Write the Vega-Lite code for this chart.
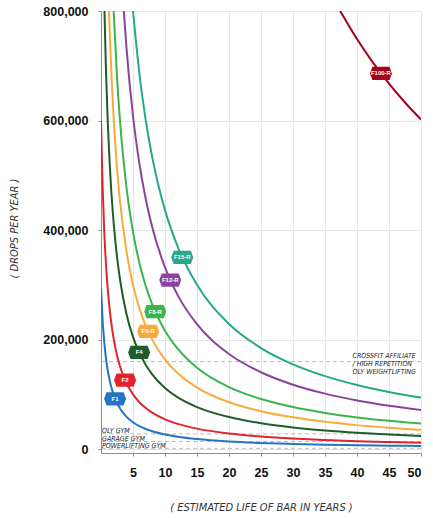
{
  "$schema": "https://vega.github.io/schema/vega-lite/v6.json",
  "width": 320,
  "height": 442,
  "autosize": {"type": "none"},
  "padding": {"left": 101, "top": 11, "right": 12, "bottom": 65},
  "config": {
    "view": {"stroke": null},
    "axis": {
      "gridColor": "#e6e6e6",
      "domainColor": "#8c8c8c",
      "tickColor": "#8c8c8c",
      "tickSize": 3,
      "labelFont": "Liberation Sans",
      "labelFontWeight": "bold",
      "labelFontSize": 12.5,
      "labelColor": "#111111",
      "labelPadding": 10,
      "labelOverlap": false,
      "titleFont": "'Liberation Sans Narrow', 'DejaVu Sans Condensed', 'Roboto', sans-serif",
      "titleFontStyle": "italic",
      "titleFontWeight": "normal",
      "titleFontSize": 11,
      "titleColor": "#333333"
    }
  },
  "layer": [
    {
      "data": {"values": [{"y": 160000}, {"y": 28000}, {"y": 14000}, {"y": 1500}]},
      "mark": {"type": "rule", "strokeDash": [4, 3], "color": "#bdbdbd", "strokeWidth": 1},
      "encoding": {
        "y": {
          "field": "y", "type": "quantitative",
          "scale": {"domain": [-7000, 800000], "nice": false, "zero": false},
          "axis": {"values": [0, 200000, 400000, 600000, 800000], "format": ",.0f", "title": "( DROPS PER YEAR )", "titleX": -87, "titleY": 217, "titleBaseline": "middle"}
        }
      }
    },
    {
      "data": {"values": [
        {"s": "F1", "x": 0, "y": 295000}, {"s": "F1", "x": 0.25, "y": 236000}, {"s": "F1", "x": 0.5, "y": 196700}, {"s": "F1", "x": 0.75, "y": 168600},
        {"s": "F1", "x": 1, "y": 147500}, {"s": "F1", "x": 1.5, "y": 118000}, {"s": "F1", "x": 2, "y": 98300}, {"s": "F1", "x": 2.5, "y": 84300},
        {"s": "F1", "x": 3, "y": 73800}, {"s": "F1", "x": 4, "y": 59000}, {"s": "F1", "x": 5, "y": 49200}, {"s": "F1", "x": 6, "y": 42100},
        {"s": "F1", "x": 7, "y": 36900}, {"s": "F1", "x": 8, "y": 32800}, {"s": "F1", "x": 10, "y": 26800}, {"s": "F1", "x": 12, "y": 22700},
        {"s": "F1", "x": 15, "y": 18400}, {"s": "F1", "x": 20, "y": 14000}, {"s": "F1", "x": 25, "y": 11300}, {"s": "F1", "x": 30, "y": 9500},
        {"s": "F1", "x": 35, "y": 8200}, {"s": "F1", "x": 40, "y": 7200}, {"s": "F1", "x": 45, "y": 6400}, {"s": "F1", "x": 50, "y": 5800},

        {"s": "F2", "x": 0, "y": 600000}, {"s": "F2", "x": 0.25, "y": 480000}, {"s": "F2", "x": 0.5, "y": 400000}, {"s": "F2", "x": 0.75, "y": 342900},
        {"s": "F2", "x": 1, "y": 300000}, {"s": "F2", "x": 1.5, "y": 240000}, {"s": "F2", "x": 2, "y": 200000}, {"s": "F2", "x": 2.5, "y": 171400},
        {"s": "F2", "x": 3, "y": 150000}, {"s": "F2", "x": 4, "y": 120000}, {"s": "F2", "x": 5, "y": 100000}, {"s": "F2", "x": 6, "y": 85700},
        {"s": "F2", "x": 7, "y": 75000}, {"s": "F2", "x": 8, "y": 66700}, {"s": "F2", "x": 10, "y": 54500}, {"s": "F2", "x": 12, "y": 46200},
        {"s": "F2", "x": 15, "y": 37500}, {"s": "F2", "x": 20, "y": 28600}, {"s": "F2", "x": 25, "y": 23100}, {"s": "F2", "x": 30, "y": 19400},
        {"s": "F2", "x": 35, "y": 16700}, {"s": "F2", "x": 40, "y": 14600}, {"s": "F2", "x": 45, "y": 13000}, {"s": "F2", "x": 50, "y": 11800},

        {"s": "F4", "x": 0.54, "y": 800000}, {"s": "F4", "x": 0.75, "y": 702900}, {"s": "F4", "x": 1, "y": 615000}, {"s": "F4", "x": 1.5, "y": 492000},
        {"s": "F4", "x": 2, "y": 410000}, {"s": "F4", "x": 2.5, "y": 351400}, {"s": "F4", "x": 3, "y": 307500}, {"s": "F4", "x": 4, "y": 246000},
        {"s": "F4", "x": 5, "y": 205000}, {"s": "F4", "x": 6, "y": 175700}, {"s": "F4", "x": 7, "y": 153800}, {"s": "F4", "x": 8, "y": 136700},
        {"s": "F4", "x": 10, "y": 111800}, {"s": "F4", "x": 12, "y": 94600}, {"s": "F4", "x": 15, "y": 76900}, {"s": "F4", "x": 20, "y": 58600},
        {"s": "F4", "x": 25, "y": 47300}, {"s": "F4", "x": 30, "y": 39700}, {"s": "F4", "x": 35, "y": 34200}, {"s": "F4", "x": 40, "y": 30000},
        {"s": "F4", "x": 45, "y": 26700}, {"s": "F4", "x": 50, "y": 24100},

        {"s": "F6-R", "x": 1.25, "y": 800000}, {"s": "F6-R", "x": 1.5, "y": 720000}, {"s": "F6-R", "x": 2, "y": 600000}, {"s": "F6-R", "x": 2.5, "y": 514300},
        {"s": "F6-R", "x": 3, "y": 450000}, {"s": "F6-R", "x": 4, "y": 360000}, {"s": "F6-R", "x": 5, "y": 300000}, {"s": "F6-R", "x": 6, "y": 257100},
        {"s": "F6-R", "x": 7, "y": 225000}, {"s": "F6-R", "x": 8, "y": 200000}, {"s": "F6-R", "x": 10, "y": 163600}, {"s": "F6-R", "x": 12, "y": 138500},
        {"s": "F6-R", "x": 15, "y": 112500}, {"s": "F6-R", "x": 20, "y": 85700}, {"s": "F6-R", "x": 25, "y": 69200}, {"s": "F6-R", "x": 30, "y": 58100},
        {"s": "F6-R", "x": 35, "y": 50000}, {"s": "F6-R", "x": 40, "y": 43900}, {"s": "F6-R", "x": 45, "y": 39100}, {"s": "F6-R", "x": 50, "y": 35300},

        {"s": "F8-R", "x": 1.975, "y": 800000}, {"s": "F8-R", "x": 2.5, "y": 680000}, {"s": "F8-R", "x": 3, "y": 595000}, {"s": "F8-R", "x": 4, "y": 476000},
        {"s": "F8-R", "x": 5, "y": 396700}, {"s": "F8-R", "x": 6, "y": 340000}, {"s": "F8-R", "x": 7, "y": 297500}, {"s": "F8-R", "x": 8, "y": 264400},
        {"s": "F8-R", "x": 10, "y": 216400}, {"s": "F8-R", "x": 12, "y": 183100}, {"s": "F8-R", "x": 15, "y": 148800}, {"s": "F8-R", "x": 20, "y": 113300},
        {"s": "F8-R", "x": 25, "y": 91500}, {"s": "F8-R", "x": 30, "y": 76800}, {"s": "F8-R", "x": 35, "y": 66100}, {"s": "F8-R", "x": 40, "y": 58000},
        {"s": "F8-R", "x": 45, "y": 51700}, {"s": "F8-R", "x": 50, "y": 46700},

        {"s": "F12-R", "x": 3.5625, "y": 800000}, {"s": "F12-R", "x": 4, "y": 730000}, {"s": "F12-R", "x": 5, "y": 608300}, {"s": "F12-R", "x": 6, "y": 521400},
        {"s": "F12-R", "x": 7, "y": 456300}, {"s": "F12-R", "x": 8, "y": 405600}, {"s": "F12-R", "x": 10, "y": 331800}, {"s": "F12-R", "x": 12, "y": 280800},
        {"s": "F12-R", "x": 15, "y": 228100}, {"s": "F12-R", "x": 20, "y": 173800}, {"s": "F12-R", "x": 25, "y": 140400}, {"s": "F12-R", "x": 30, "y": 117700},
        {"s": "F12-R", "x": 35, "y": 101400}, {"s": "F12-R", "x": 40, "y": 89000}, {"s": "F12-R", "x": 45, "y": 79300}, {"s": "F12-R", "x": 50, "y": 71600},

        {"s": "F15-R", "x": 5, "y": 800000}, {"s": "F15-R", "x": 6, "y": 685700}, {"s": "F15-R", "x": 7, "y": 600000}, {"s": "F15-R", "x": 8, "y": 533300},
        {"s": "F15-R", "x": 9, "y": 480000}, {"s": "F15-R", "x": 10, "y": 436400}, {"s": "F15-R", "x": 12, "y": 369200}, {"s": "F15-R", "x": 15, "y": 300000},
        {"s": "F15-R", "x": 20, "y": 228600}, {"s": "F15-R", "x": 25, "y": 184600}, {"s": "F15-R", "x": 30, "y": 154800}, {"s": "F15-R", "x": 35, "y": 133300},
        {"s": "F15-R", "x": 40, "y": 117100}, {"s": "F15-R", "x": 45, "y": 104300}, {"s": "F15-R", "x": 50, "y": 94100},

        {"s": "F100-R", "x": 37.375, "y": 800000}, {"s": "F100-R", "x": 40, "y": 748800}, {"s": "F100-R", "x": 42.5, "y": 705700},
        {"s": "F100-R", "x": 45, "y": 667400}, {"s": "F100-R", "x": 47.5, "y": 633000}, {"s": "F100-R", "x": 50, "y": 602000}
      ]},
      "mark": {"type": "line", "interpolate": "monotone", "strokeWidth": 2, "clip": true},
      "encoding": {
        "x": {
          "field": "x", "type": "quantitative",
          "scale": {"domain": [0, 50], "nice": false, "zero": false},
          "axis": {"values": [5, 10, 15, 20, 25, 30, 35, 40, 45, 50], "title": "( ESTIMATED LIFE OF BAR IN YEARS )", "titleY": 54, "titleBaseline": "middle"}
        },
        "y": {
          "field": "y", "type": "quantitative",
          "scale": {"domain": [-7000, 800000], "nice": false, "zero": false},
          "axis": {"values": [0, 200000, 400000, 600000, 800000], "format": ",.0f", "title": "( DROPS PER YEAR )", "titleX": -87, "titleY": 217, "titleBaseline": "middle"}
        },
        "color": {
          "field": "s", "type": "nominal", "legend": null,
          "scale": {
            "domain": ["F1", "F2", "F4", "F6-R", "F8-R", "F12-R", "F15-R", "F100-R"],
            "range": ["#2175c4", "#e3242f", "#1f5c2b", "#f8ab3c", "#3ab54a", "#8b449e", "#26a98a", "#a5001c"]
          }
        }
      }
    },
    {
      "data": {"values": [{"t": "CROSSFIT AFFILIATE\n/ HIGH REPETITION\nOLY WEIGHTLIFTING", "x": 39.3, "y": 160000}]},
      "mark": {"type": "text", "lineBreak": "\n", "lineHeight": 8, "align": "left", "baseline": "bottom", "dy": -3, "font": "'Liberation Sans Narrow', 'DejaVu Sans Condensed', 'Liberation Sans', sans-serif", "fontStyle": "italic", "fontSize": 7, "color": "#222222"},
      "encoding": {
        "x": {
          "field": "x", "type": "quantitative",
          "scale": {"domain": [0, 50], "nice": false, "zero": false},
          "axis": {"values": [5, 10, 15, 20, 25, 30, 35, 40, 45, 50], "title": "( ESTIMATED LIFE OF BAR IN YEARS )", "titleY": 54, "titleBaseline": "middle"}
        },
        "y": {
          "field": "y", "type": "quantitative",
          "scale": {"domain": [-7000, 800000], "nice": false, "zero": false},
          "axis": {"values": [0, 200000, 400000, 600000, 800000], "format": ",.0f", "title": "( DROPS PER YEAR )", "titleX": -87, "titleY": 217, "titleBaseline": "middle"}
        },
        "text": {"field": "t"}
      }
    },
    {
      "data": {"values": [
        {"t": "OLY GYM", "x": 0, "y": 28000},
        {"t": "GARAGE GYM", "x": 0, "y": 14000},
        {"t": "POWERLIFTING GYM", "x": 0, "y": 1500}
      ]},
      "mark": {"type": "text", "align": "left", "baseline": "bottom", "dx": 1, "dy": 0.5, "font": "'Liberation Sans Narrow', 'DejaVu Sans Condensed', 'Liberation Sans', sans-serif", "fontStyle": "italic", "fontSize": 7, "color": "#222222"},
      "encoding": {
        "x": {
          "field": "x", "type": "quantitative",
          "scale": {"domain": [0, 50], "nice": false, "zero": false},
          "axis": {"values": [5, 10, 15, 20, 25, 30, 35, 40, 45, 50], "title": "( ESTIMATED LIFE OF BAR IN YEARS )", "titleY": 54, "titleBaseline": "middle"}
        },
        "y": {
          "field": "y", "type": "quantitative",
          "scale": {"domain": [-7000, 800000], "nice": false, "zero": false},
          "axis": {"values": [0, 200000, 400000, 600000, 800000], "format": ",.0f", "title": "( DROPS PER YEAR )", "titleX": -87, "titleY": 217, "titleBaseline": "middle"}
        },
        "text": {"field": "t"}
      }
    },
    {
      "data": {"values": [
        {"s": "F1", "x": 2.2, "y": 92000},
        {"s": "F2", "x": 3.76, "y": 126000},
        {"s": "F4", "x": 5.96, "y": 176700},
        {"s": "F6-R", "x": 7.37, "y": 215000},
        {"s": "F8-R", "x": 8.47, "y": 251000},
        {"s": "F12-R", "x": 10.82, "y": 308800},
        {"s": "F15-R", "x": 12.7, "y": 350000},
        {"s": "F100-R", "x": 43.74, "y": 686000}
      ]},
      "encoding": {
        "x": {
          "field": "x", "type": "quantitative",
          "scale": {"domain": [0, 50], "nice": false, "zero": false},
          "axis": {"values": [5, 10, 15, 20, 25, 30, 35, 40, 45, 50], "title": "( ESTIMATED LIFE OF BAR IN YEARS )", "titleY": 54, "titleBaseline": "middle"}
        },
        "y": {
          "field": "y", "type": "quantitative",
          "scale": {"domain": [-7000, 800000], "nice": false, "zero": false},
          "axis": {"values": [0, 200000, 400000, 600000, 800000], "format": ",.0f", "title": "( DROPS PER YEAR )", "titleX": -87, "titleY": 217, "titleBaseline": "middle"}
        }
      },
      "layer": [
        {
          "mark": {"type": "point", "shape": "M-1,0L-0.78,-0.6L0.78,-0.6L1,0L0.78,0.6L-0.78,0.6Z", "filled": true, "size": 484, "opacity": 1, "strokeWidth": 0},
          "encoding": {
            "color": {
              "field": "s", "type": "nominal", "legend": null,
              "scale": {
                "domain": ["F1", "F2", "F4", "F6-R", "F8-R", "F12-R", "F15-R", "F100-R"],
                "range": ["#2175c4", "#e3242f", "#1f5c2b", "#f8ab3c", "#3ab54a", "#8b449e", "#26a98a", "#a5001c"]
              }
            }
          }
        },
        {
          "mark": {"type": "text", "color": "#ffffff", "fontSize": 6, "fontWeight": "bold", "font": "Liberation Sans", "baseline": "middle"},
          "encoding": {"text": {"field": "s"}}
        }
      ]
    }
  ]
}
